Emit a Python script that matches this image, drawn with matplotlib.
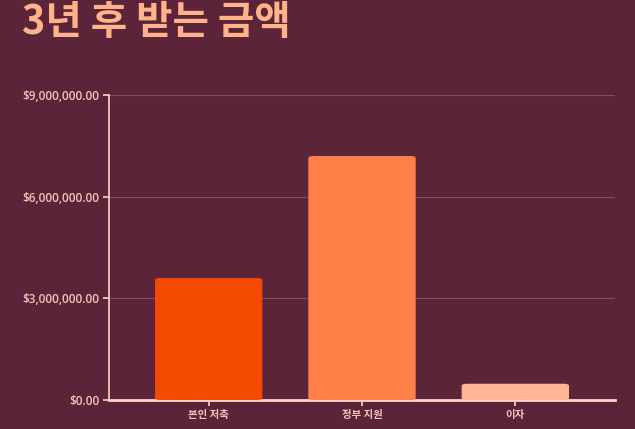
import matplotlib.pyplot as plt
from matplotlib.patches import FancyBboxPatch
from matplotlib.ticker import FuncFormatter

categories = ['본인 저축', '정부 지원', '이자']
values = [3600000, 7200000, 480000]
colors = ['#F44A00', '#FE7F48', '#FFB594']

bg = '#5B2439'
plt.rcParams['font.family'] = ['Open Sans', 'Noto Sans CJK KR', 'DejaVu Sans']

fig = plt.figure(figsize=(6.35, 4.29), dpi=100, facecolor=bg)
ax = fig.add_axes([109 / 635, 1 - 400 / 429, 506 / 635, 305 / 429])
ax.set_facecolor(bg)

bars = ax.bar(range(len(categories)), values, width=0.70, color=colors, zorder=3)
# round the top corners
for b, c in zip(bars, colors):
    b.set_visible(False)
    x, w, h = b.get_x(), b.get_width(), b.get_height()
    p = FancyBboxPatch((x, 0), w, h, boxstyle='round,pad=0,rounding_size=0.035',
                       mutation_aspect=9000000 / 3.3 * 305 / 506,
                       facecolor=c, edgecolor='none', zorder=3)
    ax.add_patch(p)

ax.set_xlim(-0.65, 2.65)
ax.set_ylim(0, 9000000)
ax.set_yticks([0, 3000000, 6000000, 9000000])
ax.yaxis.set_major_formatter(FuncFormatter(lambda v, _: f'${v:,.2f}'))
ax.set_xticks(range(len(categories)))
ax.set_xticklabels(categories)

ax.grid(axis='y', color='#8A4A5E', linewidth=0.8, zorder=0)
for s in ['top', 'right']:
    ax.spines[s].set_visible(False)
ax.spines['left'].set_color('#FFD6C8')
ax.spines['bottom'].set_color('#FFD6C8')
ax.spines['left'].set_linewidth(1.2)
ax.spines['bottom'].set_linewidth(2)
ax.tick_params(colors='#FFD6C8', labelcolor='#F2C3B6', length=4, width=1.2, labelsize=8.5, pad=3)
for lab in ax.get_yticklabels():
    lab.set_fontweight('semibold')
for lab in ax.get_xticklabels():
    lab.set_family(['Noto Sans CJK KR'])
    lab.set_fontweight('bold')
    lab.set_fontsize(7.5)

fig.text(22 / 635, 1 - 22 / 429, '3년 후 받는 금액', color='#FFB38A', fontsize=28.5,
         fontweight='bold', va='center', ha='left', family=['Noto Sans CJK KR'])

fig.savefig('out.png', dpi=100, facecolor=bg)
